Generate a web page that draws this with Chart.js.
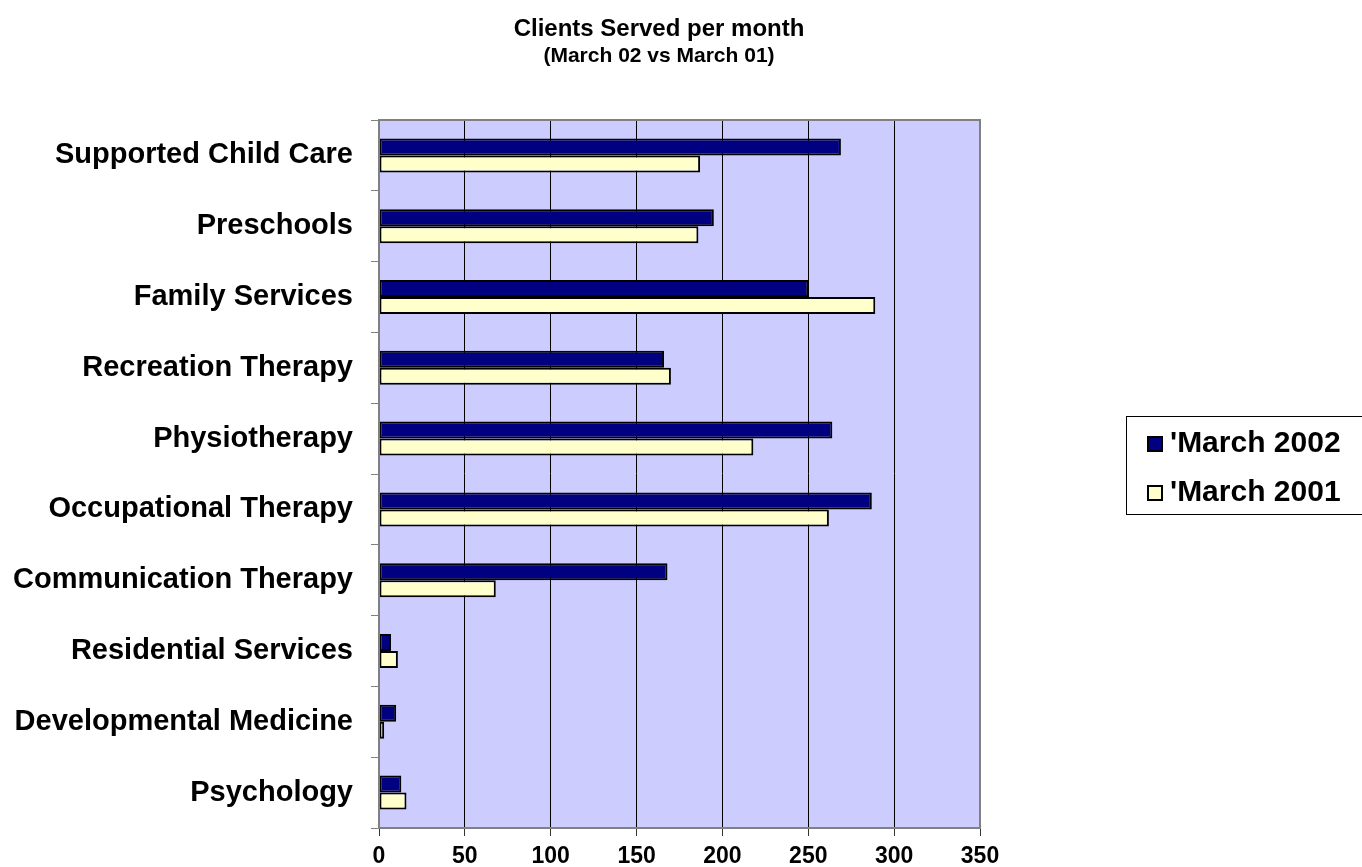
<!DOCTYPE html>
<html>
<head>
<meta charset="utf-8">
<script src="https://cdn.jsdelivr.net/npm/chart.js@4.4.1/dist/chart.umd.min.js"></script>
<style>
  html, body { margin: 0; padding: 0; background: #ffffff; }
  #wrap { width: 1362px; height: 867px; position: relative; }
  canvas { display: block; }
</style>
</head>
<body>
<div id="wrap"><canvas id="c" width="1362" height="867"></canvas></div>
<script>
// ---- data ----
const categories = [
  'Supported Child Care',
  'Preschools',
  'Family Services',
  'Recreation Therapy',
  'Physiotherapy',
  'Occupational Therapy',
  'Communication Therapy',
  'Residential Services',
  'Developmental Medicine',
  'Psychology'
];
const march2002 = [269, 195, 250, 166, 264, 287, 168, 7, 10, 13];
const march2001 = [187, 186, 289, 170, 218, 262, 68, 11, 3, 16];
const seriesLabels = ["'March 2002", "'March 2001"];
const xMin = 0;
const xMax = 350;
const xStep = 50;
const titleText = 'Clients Served per month';
const subtitleText = '(March 02 vs March 01)';

const FONT = "'Liberation Sans', Arial, sans-serif";

const decorPlugin = {
  id: 'decor',
  beforeDraw(chart) {
    const a = chart.chartArea, ctx = chart.ctx;
    ctx.save();
    ctx.fillStyle = '#CCCCFF';
    ctx.fillRect(a.left, a.top, a.right - a.left, a.bottom - a.top);
    ctx.restore();
  },
  afterDatasetsDraw(chart) {
    const a = chart.chartArea, ctx = chart.ctx;
    ctx.save();
    ctx.strokeStyle = '#808080';
    ctx.lineWidth = 2;
    ctx.strokeRect(a.left, a.top, a.right - a.left, a.bottom - a.top);
    ctx.restore();
  },
  afterDraw(chart) {
    const ctx = chart.ctx;
    ctx.save();
    // title
    ctx.fillStyle = '#000';
    ctx.textAlign = 'center';
    ctx.textBaseline = 'alphabetic';
    ctx.font = 'bold 24px ' + FONT;
    ctx.fillText(titleText, 659, 36);
    ctx.font = 'bold 21px ' + FONT;
    ctx.fillText(subtitleText, 659, 62);

    // legend
    const bx = 1126.5, by = 416.5, bw = 260, bh = 98;
    ctx.fillStyle = '#fff';
    ctx.fillRect(bx, by, bw, bh);
    ctx.strokeStyle = '#000';
    ctx.lineWidth = 1;
    ctx.strokeRect(bx, by, bw, bh);
    const rowsBase = [452, 501];
    chart.data.datasets.forEach((ds, i) => {
      const base = rowsBase[i];
      ctx.fillStyle = ds.backgroundColor;
      ctx.fillRect(1148, base - 15, 14, 14);
      ctx.strokeStyle = '#000';
      ctx.lineWidth = 2;
      ctx.strokeRect(1148, base - 15, 14, 14);
      ctx.fillStyle = '#000';
      ctx.textAlign = 'left';
      ctx.font = 'bold 30px ' + FONT;
      ctx.fillText(ds.label, 1170, base);
    });
    ctx.restore();
  }
};

new Chart(document.getElementById('c'), {
  type: 'bar',
  data: {
    labels: categories,
    datasets: [
      {
        label: seriesLabels[0],
        data: march2002,
        backgroundColor: '#000080',
        borderColor: '#000000',
        borderWidth: 2,
        borderSkipped: false,
        categoryPercentage: 0.48,
        barPercentage: 1.0
      },
      {
        label: seriesLabels[1],
        data: march2001,
        backgroundColor: '#FFFFCC',
        borderColor: '#000000',
        borderWidth: 2,
        borderSkipped: false,
        categoryPercentage: 0.48,
        barPercentage: 1.0
      }
    ]
  },
  options: {
    indexAxis: 'y',
    responsive: false,
    animation: false,
    devicePixelRatio: 1,
    layout: { padding: { top: 120, right: 382, bottom: 0, left: 0 } },
    plugins: {
      legend: { display: false },
      title: { display: false },
      tooltip: { enabled: false }
    },
    scales: {
      x: {
        type: 'linear',
        min: xMin,
        max: xMax,
        afterFit(s) { s.height = 39; },
        ticks: {
          stepSize: xStep,
          color: '#000',
          padding: 7,
          font: { family: FONT, size: 23, weight: 'bold' }
        },
        grid: {
          color: '#000000',
          lineWidth: 1,
          drawTicks: true,
          tickLength: 8,
          tickColor: '#333333'
        },
        border: { display: true, color: '#808080', width: 2 }
      },
      y: {
        type: 'category',
        afterFit(s) { s.width = 379; },
        ticks: {
          color: '#000',
          padding: 18,
          font: { family: FONT, size: 29, weight: 'bold' }
        },
        grid: {
          offset: true,
          drawOnChartArea: false,
          drawTicks: true,
          tickLength: 8,
          tickColor: '#808080',
          color: '#808080'
        },
        border: { display: true, color: '#808080', width: 2 }
      }
    }
  },
  plugins: [decorPlugin]
});
</script>
</body>
</html>
